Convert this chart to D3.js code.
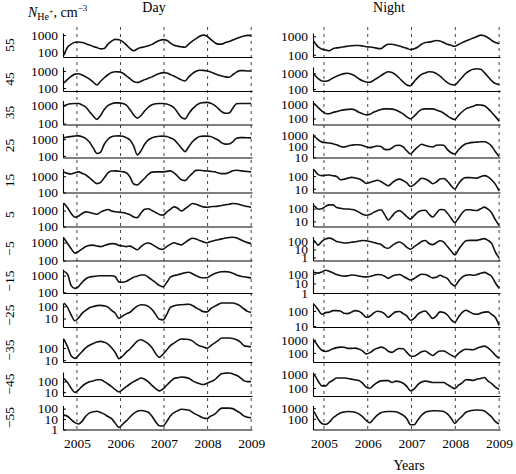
<!DOCTYPE html>
<html>
<head>
<meta charset="utf-8">
<script src="https://cdn.jsdelivr.net/npm/d3@7"></script>
<style>
body { margin: 0; background: #fff; }
</style>
</head>
<body>
<svg id="chart" width="516" height="474"></svg>
<script>

//// time grid shared by every series (Oct 2004 .. Jan 2009, 52 samples)
const t = d3.range(52).map(k => 2004.7 + k * 4.3 / 51);
const years = [2005, 2006, 2007, 2008, 2009];
const latLabels = ['55', '45', '35', '25', '15', '5', '\u22125', '\u221215', '\u221225', '\u221235', '\u221245', '\u221255'];

//// Day series, N(He+) in cm^-3
const day55 = [70,200,300,380,400,370,320,270,220,190, 160,170,300,450,560,530,420,270,170,125, 160,190,210,240,290,380,480,540,500,350, 260,230,210,200,300,450,620,850,980,850, 560,380,300,300,370,420,520,620,750,870, 950,920];
const day45 = [200,320,480,650,680,580,450,330,220,150, 250,400,600,800,900,880,760,520,350,240, 210,250,310,370,450,580,700,800,760,620, 500,380,300,260,450,700,950,1100,1080,1000, 880,700,580,500,450,430,600,850,1050,1050, 1000,1000];
const day35 = [950,1150,1250,1300,1300,1050,800,450,260,170, 280,600,1000,1250,1400,1400,1300,1050,600,300, 200,280,500,800,1100,1250,1300,1300,1200,1000, 750,400,220,180,350,650,1000,1350,1450,1500, 1350,1050,700,450,370,380,700,1250,1300,1300, 1300,1300];
const day25 = [1200,1350,1450,1550,1580,1400,1100,650,300,140, 170,500,1000,1400,1550,1580,1500,1250,900,400, 115,200,500,900,1200,1400,1500,1530,1450,1200, 950,550,300,180,350,700,1100,1450,1530,1530, 1450,1150,900,600,510,520,700,1150,1250,1250, 1220,1200];
const day15 = [1850,1500,1380,1650,1850,1500,1200,800,500,350, 420,800,1600,2100,2150,2050,1900,1650,900,330, 290,450,750,1300,1800,1850,1850,1850,2000,2150, 1600,1000,600,540,900,1500,2300,2350,2200,2100, 2000,1900,1600,1450,1450,1700,2200,2350,2200,2050, 1950,1850];
const day5 = [2900,1500,650,380,450,650,830,750,650,590, 800,1000,1170,950,850,800,750,650,550,400, 360,700,1200,1300,1000,750,570,520,800,1200, 1700,1400,950,1300,1900,2800,2500,2000,1700,1600, 1750,1800,1900,2100,2300,2500,2800,2700,2300,2000, 1800,1600];
const dayS5 = [1800,900,450,260,320,450,600,700,720,640, 600,700,800,880,850,700,650,600,640,500, 400,600,850,950,800,600,450,420,600,800, 980,850,750,1000,1400,1750,1600,1300,1100,980, 1150,1300,1450,1620,1800,1950,2000,1850,1500,1200, 1000,880];
const dayS15 = [1800,1200,250,170,220,400,650,820,880,940, 980,990,990,980,850,420,400,450,600,800, 930,1100,1100,800,560,380,260,210,380,800, 1000,1120,1300,1500,1580,1300,1000,800,740,750, 1000,1300,1550,1700,1750,1650,1400,1100,950,850, 780,730];
const dayS25 = [190,84,19.5,6.5,11.2,28,48,76,96,115, 120,110,88,46,27,10.3,16,24,33,61, 105,138,132,100,55,22,8.6,7.8,21,84, 110,132,138,144,150,120,76,53,37,35, 64,100,144,190,190,190,190,158,110,64, 39,32];
const dayS35 = [560,131,23,14,25,52,108,172,238,311, 356,300,215,108,43,13.2,22,46,83,180, 375,490,356,225,108,35,17,31,69,158, 260,410,560,535,510,390,225,150,124,95, 158,260,410,680,680,680,620,490,325,165, 137,131];
const dayS45 = [195,80,23,9.4,16,37,65,94,115,150, 150,98,59,33,17,10.4,17.5,33,59,98, 150,215,167,94,43,21,13,20,45,98, 195,230,265,250,205,122,80,62,53,69, 98,143,295,560,620,650,530,390,240,122, 98,98];
const dayS55 = [24,18.5,8.8,4.6,3.4,6.4,19.4,39,50,56, 43,30,17.5,10.9,4,1.6,3.2,6.7,15.7,33, 56,66,59,45,18.5,5.4,2.3,2.2,5.7,20, 41,62,86,81,73,45,28,18.5,12.7,11.4, 19.4,28,62,111,111,111,100,62,39,20, 15,13.4];

//// Night series
const night55 = [830,470,265,204,180,165,215,236,250,272, 290,310,316,316,300,272,265,250,222,215, 300,370,370,335,300,257,222,190,210,265, 370,455,485,530,590,560,455,370,325,290, 360,455,560,670,800,960,1150,1050,830,590, 455,390];
const night45 = [1500,800,450,320,310,360,500,650,800,950, 1000,850,650,450,330,280,270,350,500,700, 1000,1250,1100,800,480,280,180,160,300,550, 850,1050,1250,1200,950,650,400,250,190,180, 300,550,1000,1450,1800,1950,1800,1100,600,330, 220,190];
const night35 = [1560,1100,590,336,226,218,265,310,364,410, 440,460,395,276,218,180,200,276,350,440, 480,480,460,395,300,210,130,96,148,276, 440,480,480,480,395,325,236,154,103,85, 166,300,480,610,740,930,900,800,500,265, 135,64];
const night25 = [1220,780,410,247,225,203,174,142,100,90, 110,128,142,142,122,95,78,95,110,100, 55,52,74,122,128,90,41,21,45,90, 157,122,100,90,128,135,128,52,27,21, 50,105,174,213,235,247,270,270,203,105, 33,12];
const night15 = [400,280,130,108,117,122,108,94,51,56, 69,79,72,61,43,26,31,39,47,37, 24,17,29,47,58,45,29,15,21,39, 67,58,41,25,34,58,64,39,17,9.6, 25,56,76,76,72,69,90,108,86,49, 22,6.8];
const night5 = [240,157,90,97,150,195,195,121,106,94, 94,86,75,53,36,30,34,51,69,82, 34,13,26,53,69,45,24,15,28,53, 72,75,38,22,43,86,82,43,18,8, 18,45,82,82,75,72,97,131,90,45, 13,4.8];
const nightS5 = [210,113,35,105,210,260,195,98,80,65, 70,80,91,113,130,121,98,75,56,42, 18.5,14,30,61,85,49,18.5,10.6,23,46, 98,130,56,40,70,121,85,23,6.6,2.1, 9.9,42,121,139,139,139,183,226,139,53, 4.7,0.9];
const nightS15 = [200,135,120,160,240,190,127,85,67,57, 64,75,71,60,50,48,53,67,85,80, 57,34,57,75,85,57,34,22.6,32,60, 90,85,57,38,43,71,48,32,10,5.6, 17,45,71,80,71,85,113,142,95,53, 11,3.2];
const nightS25 = [340,250,120,60,78,84,105,105,100,70, 67,84,105,97,65,38,45,72,97,90, 65,38,60,87,93,67,47,24,32,62, 87,100,58,32,48,87,78,54,26,18, 40,80,112,87,65,60,72,84,87,58, 37,11];
const nightS35 = [1400,800,330,160,130,154,206,255,280,270, 225,225,235,198,142,84,105,167,225,280, 225,135,110,167,216,206,110,58,55,80, 124,142,92,63,100,142,142,100,68,51, 92,148,190,182,175,225,290,330,245,135, 65,40];
const nightS45 = [1050,780,300,140,140,250,350,500,500,500, 465,420,370,330,215,114,94,155,240,315, 330,330,240,300,280,215,128,63,87,170, 260,300,280,240,240,240,240,170,119,90, 155,230,380,370,340,420,465,540,300,205, 114,80];
const nightS55 = [670,400,93,37,30,48,120,220,360,440, 490,470,420,290,160,72,43,98,220,380, 470,490,490,470,340,220,103,28,28,80, 220,420,520,570,570,550,490,290,115,37, 88,180,420,550,640,670,640,550,300,150, 55,33];

//// y scale domains and tick labels per panel
const dayDomains = [[55,1300],[67,1700],[88,1900],[80,2200],[100,3000],[100,3200],[100,2200],[90,2500],[2,190],[7,680],[4.3,800],[1,200]];
const dayTicks = [[100,1000],[100,1000],[100,1000],[100,1000],[100,1000],[100,1000],[100,1000],[100,1000],[10,100],[10,100],[10,100],[1,10,100]];
const nightDomains = [[76,1500],[74,2500],[37,1900],[10,1500],[5,400],[4,300],[0.42,420],[1,320],[8.6,340],[20,1400],[27,1330],[10,1800]];
const nightTicks = [[100,1000],[100,1000],[100,1000],[10,100,1000],[10,100],[10,100],[1,10,100],[1,10,100],[10,100],[100,1000],[100,1000],[100,1000]];

const daySeries = [day55, day45, day35, day25, day15, day5, dayS5, dayS15, dayS25, dayS35, dayS45, dayS55];
const nightSeries = [night55, night45, night35, night25, night15, night5, nightS5, nightS15, nightS25, nightS35, nightS45, nightS55];


//// layout
const svg = d3.select('#chart');
const serif = '"Liberation Serif", "Times New Roman", serif';
const panelBottoms = [57, 91, 124.5, 157.5, 192.5, 226.5, 260.5, 293, 327, 362, 396, 429.5];
const panelH = 24;

const columns = [
    {name: 'day', series: daySeries, domains: dayDomains, ticks: dayTicks, xDomain: [2004.68, 2009.02], xRange: [63, 252]},
    {name: 'night', series: nightSeries, domains: nightDomains, ticks: nightTicks, xDomain: [2004.75, 2009.02], xRange: [313, 500]}
];

columns.forEach(col => drawColumn(col));

function drawColumn(col){
    const x = d3.scaleLinear().domain(col.xDomain).range(col.xRange);
    const g = svg.append('g').attr('class', col.name);

    const clipId = 'clip-' + col.name;
    svg.append('clipPath').attr('id', clipId)
        .append('rect')
        .attr('x', col.xRange[0])
        .attr('y', 0)
        .attr('width', col.xRange[1] - col.xRange[0] + 1)
        .attr('height', 474);

    // dashed year lines run through the whole column
    g.selectAll('.yearline')
        .data(years)
        .join('line')
        .attr('class', 'yearline')
        .attr('x1', d => x(d)).attr('x2', d => x(d))
        .attr('y1', 27).attr('y2', 432)
        .style('stroke', '#444')
        .style('stroke-width', 1)
        .style('stroke-dasharray', '3,4');

    col.series.forEach((vals, i) => {
        const bottom = panelBottoms[i];
        const y = d3.scaleLog().domain(col.domains[i]).range([bottom, bottom - panelH]);
        const panel = g.append('g').attr('class', 'panel');

        const yAxis = d3.axisLeft(y)
            .tickValues(col.ticks[i])
            .tickSizeInner(-3)
            .tickSizeOuter(0)
            .tickPadding(5)
            .tickFormat(d3.format('d'));
        panel.append('g')
            .attr('transform', `translate(${col.xRange[0]},0)`)
            .call(yAxis)
            .attr('font-family', serif)
            .attr('font-size', 13.5);

        const xAxis = d3.axisBottom(x)
            .tickValues(i === col.series.length - 1 ? years : [])
            .tickSize(0)
            .tickPadding(9)
            .tickFormat(d3.format('d'));
        panel.append('g')
            .attr('transform', `translate(0,${bottom})`)
            .call(xAxis)
            .attr('font-family', serif)
            .attr('font-size', 13.5);

        const line = d3.line()
            .x((d, k) => x(t[k]))
            .y(d => y(d))
            .curve(d3.curveMonotoneX);

        panel.append('path')
            .datum(vals)
            .attr('clip-path', `url(#${clipId})`)
            .attr('d', line)
            .style('fill', 'none')
            .style('stroke', '#111')
            .style('stroke-width', 1.6)
            .style('stroke-linejoin', 'round');
    });

    svg.selectAll('.domain').style('stroke-width', 1.1);
}

// latitude labels on the left, rotated
svg.append('g').selectAll('text')
    .data(latLabels)
    .join('text')
    .attr('transform', (d, i) => `translate(13.5,${panelBottoms[i] - panelH / 2}) rotate(-90)`)
    .attr('text-anchor', 'middle')
    .attr('font-family', serif)
    .attr('font-size', 13.5)
    .text(d => d);

// header
const head = svg.append('text')
    .attr('x', 28).attr('y', 17)
    .attr('font-family', serif)
    .attr('font-size', 14);
head.append('tspan').attr('font-style', 'italic').text('N');
head.append('tspan').attr('font-size', 10).attr('dy', 3).text('He');
head.append('tspan').attr('font-size', 8).attr('dy', -6).text('+');
head.append('tspan').attr('dy', 3).text(', cm');
head.append('tspan').attr('font-size', 9).attr('dy', -6).text('\u22123');

svg.append('text')
    .attr('x', 154).attr('y', 12)
    .attr('text-anchor', 'middle')
    .attr('font-family', serif)
    .attr('font-size', 14)
    .text('Day');

svg.append('text')
    .attr('x', 389).attr('y', 12)
    .attr('text-anchor', 'middle')
    .attr('font-family', serif)
    .attr('font-size', 14)
    .text('Night');

svg.append('text')
    .attr('x', 409).attr('y', 470)
    .attr('text-anchor', 'middle')
    .attr('font-family', serif)
    .attr('font-size', 14)
    .text('Years');

</script>
</body>
</html>
